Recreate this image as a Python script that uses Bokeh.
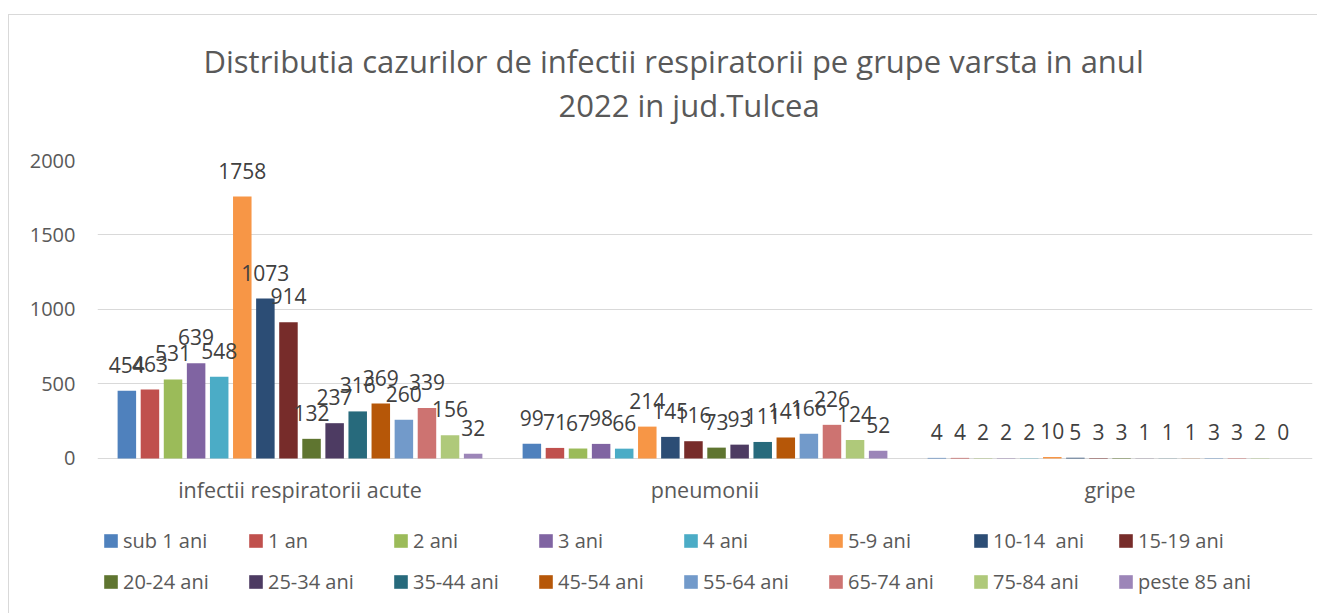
from bokeh.plotting import figure
from bokeh.models import (ColumnDataSource, FactorRange, Range1d, LabelSet, Legend,
                          LegendItem, Title, FixedTicker)
from bokeh.core.properties import value
from bokeh.transform import dodge
from bokeh.embed import file_html
from bokeh.resources import INLINE

categories = ["infectii respiratorii acute", "pneumonii", "gripe"]
groups = ["sub 1 ani", "1 an", "2 ani", "3 ani", "4 ani", "5-9 ani", "10-14  ani",
          "15-19 ani", "20-24 ani", "25-34 ani", "35-44 ani", "45-54 ani",
          "55-64 ani", "65-74 ani", "75-84 ani", "peste 85 ani"]
infectii = [454, 463, 531, 639, 548, 1758, 1073, 914, 132, 237, 316, 369, 260, 339, 156, 32]
pneumonii = [99, 71, 67, 98, 66, 214, 145, 116, 73, 93, 111, 141, 166, 226, 124, 52]
gripe = [4, 4, 2, 2, 2, 10, 5, 3, 3, 1, 1, 1, 3, 3, 2, 0]
colors = ["#4F81BD", "#C0504D", "#9BBB59", "#8064A2", "#4BACC6", "#F79646",
          "#2C4D75", "#772C2A", "#5F7530", "#4D3B62", "#276A7C", "#B65708",
          "#729ACA", "#CD7371", "#AFC97A", "#9C85B8"]
y_ticks = [0, 500, 1000, 1500, 2000]

FONT = "Open Sans"

# the frame runs to the bottom of the figure, leaving room under the
# baseline for the category labels and the legend
p = figure(x_range=FactorRange(*categories), y_range=Range1d(-1047, 2000),
           width=1309, height=599, output_backend="svg", toolbar_location=None,
           min_border_left=88, min_border_right=6, min_border_top=145,
           min_border_bottom=0)
p.styles = {"border-left": "1px solid #D9D9D9", "border-top": "1px solid #D9D9D9",
            "margin-top": "14px", "margin-left": "8px"}
p.outline_line_color = None

p.title.text = "Distributia cazurilor de infectii respiratorii pe grupe varsta in anul"
p.title.align = "left"
p.title.offset = 106
p.title.text_font = FONT
p.title.text_font_size = "31px"
p.title.text_font_style = "normal"
p.title.text_color = "#595959"
try:
    p.title.standoff = -71
except Exception:
    p.title.standoff = 0
p.add_layout(Title(text="2022 in jud.Tulcea",
                   align="left", offset=461, text_font=FONT, text_font_size="31px",
                   text_font_style="normal", text_color="#595959", standoff=70), "above")

n = len(groups)
step = 0.057
items = []
for i, name in enumerate(groups):
    vals = [infectii[i], pneumonii[i], gripe[i]]
    src = ColumnDataSource(dict(cat=categories, v=vals, lbl=[str(v) for v in vals]))
    off = (i - (n - 1) / 2) * step
    r = p.vbar(x=dodge("cat", off, range=p.x_range), top="v", width=0.0457,
               source=src, fill_color=colors[i], line_color=None)
    items.append(LegendItem(label=name, renderers=[r]))
    p.add_layout(LabelSet(x=dodge("cat", off, range=p.x_range), y="v", text="lbl",
                          source=src, text_align="center", text_baseline="alphabetic",
                          y_offset=18, text_font=value(FONT), text_font_size="21px",
                          text_color="#404040"))

# category labels under the baseline
cat_src = ColumnDataSource(dict(cat=categories, base=[0] * len(categories)))
p.add_layout(LabelSet(x="cat", y="base", text="cat", source=cat_src,
                      text_align="center", text_baseline="middle", y_offset=-31,
                      text_font=value(FONT), text_font_size="21.5px",
                      text_color="#595959"))

p.xaxis.visible = False

p.yaxis.ticker = FixedTicker(ticks=y_ticks)
p.yaxis.axis_line_color = None
p.yaxis.major_tick_line_color = None
p.yaxis.minor_tick_line_color = None
p.yaxis.major_tick_out = 0
p.yaxis.major_tick_in = 0
p.yaxis.major_label_standoff = 22
p.yaxis.major_label_text_font = FONT
p.yaxis.major_label_text_font_size = "20px"
p.yaxis.major_label_text_color = "#595959"

p.xgrid.grid_line_color = None
p.ygrid.grid_line_color = "#D9D9D9"
p.ygrid.grid_line_width = 1

legend = Legend(items=items, ncols=8, orientation="horizontal", location=(5, 19),
                label_text_font=FONT, label_text_font_size="20px",
                label_text_color="#595959", glyph_width=17, glyph_height=17,
                label_standoff=4, label_width=110, spacing=14, padding=0, margin=0,
                border_line_color=None, background_fill_alpha=0)
p.add_layout(legend, "center")

open("out.html", "w").write(file_html(p, INLINE))
